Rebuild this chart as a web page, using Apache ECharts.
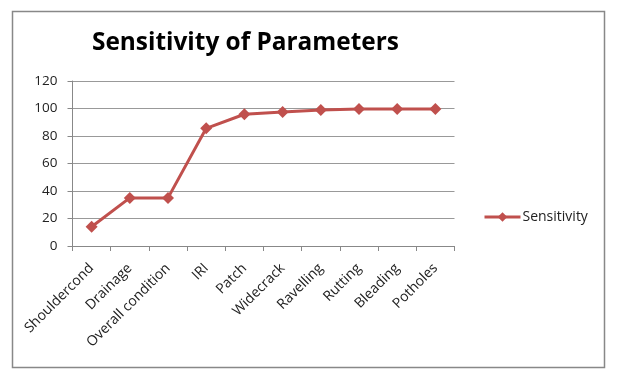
<!DOCTYPE html>
<html><head><meta charset="utf-8">
<script src="https://cdn.jsdelivr.net/npm/echarts@6/dist/echarts.min.js"></script>
<style>html,body{margin:0;padding:0;background:#fff}#c{width:619px;height:384px}</style>
</head><body><div id="c"></div>
<script>
const categories = ["Shouldercond","Drainage","Overall condition","IRI","Patch","Widecrack","Ravelling","Rutting","Bleading","Potholes"];
const sensitivity = [14, 35, 35, 85.6, 95.8, 97.5, 98.9, 99.6, 99.6, 99.7];
const yTicks = {min: 0, max: 120, interval: 20};
const chart = echarts.init(document.getElementById('c'), null, {renderer: 'canvas'});
const font = '"Open Sans", sans-serif';
chart.setOption({
  animation: false,
  title: {text: 'Sensitivity of Parameters', left: 87, top: 26,
    textStyle: {fontFamily: font, fontWeight: 'bold', fontSize: 24.4, color: '#000'}},
  graphic: [{type: 'rect', shape: {x: 12.5, y: 11.5, width: 592, height: 356},
    style: {fill: 'none', stroke: '#888', lineWidth: 1.5}, z: -1}],
  grid: {left: 72.5, right: 619 - 454.5, top: 81, bottom: 384 - 246},
  legend: {data: ['Sensitivity'], left: 478, top: 205, itemWidth: 36, itemHeight: 12,
    itemGap: 2, lineStyle: {width: 3},
    textStyle: {fontFamily: font, fontSize: 14, color: '#222', padding: [0,0,0,-3]}},
  xAxis: {type: 'category', data: categories, boundaryGap: true,
    axisLine: {lineStyle: {color: '#888', width: 1}},
    axisTick: {show: true, alignWithLabel: false, length: 5, lineStyle: {color: '#888'}},
    axisLabel: {rotate: 45, interval: 0, fontFamily: font, fontSize: 14, color: '#222', margin: 20}},
  yAxis: {type: 'value', min: yTicks.min, max: yTicks.max, interval: yTicks.interval,
    axisLine: {show: true, lineStyle: {color: '#888', width: 1}},
    axisTick: {show: true, length: 5, lineStyle: {color: '#888'}},
    splitLine: {lineStyle: {color: '#999', width: 1}},
    axisLabel: {fontFamily: font, fontSize: 13.5, color: '#222', margin: 15}},
  series: [{name: 'Sensitivity', type: 'line', data: sensitivity,
    symbol: 'diamond', symbolSize: 12,
    lineStyle: {color: '#C0504D', width: 3},
    itemStyle: {color: '#C0504D'}}]
});
</script></body></html>
